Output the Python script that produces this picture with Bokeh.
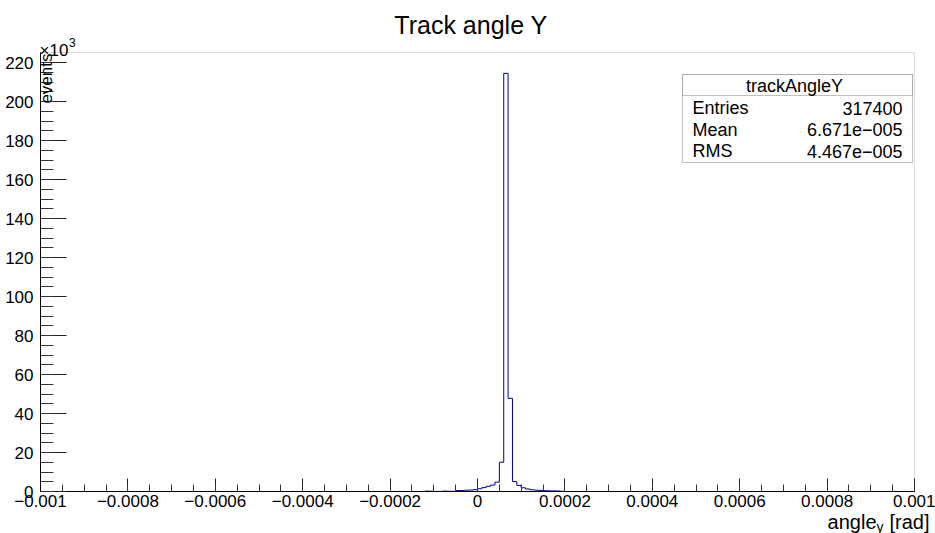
from bokeh.plotting import figure
from bokeh.models import (FixedTicker, CustomJSTickFormatter, Label, BoxAnnotation, Range1d)
from bokeh.embed import file_html
from bokeh.resources import INLINE

# ---------------- data ----------------
x_min, x_max = -0.001, 0.001
n_bins = 200
# non-empty bins: lower edge (in units of 1e-5 rad) and number of events
bin_low_e5 = [-12, -11, -10, -9, -8, -7, -6, -5, -4, -3, -2, -1, 0, 1, 2, 3, 4,
              5, 6, 7, 8, 9, 10, 11, 12, 13, 14, 15, 16, 17, 18, 19]
events = [200, 150, 30, 30, 200, 120, 100, 450, 500, 650, 750, 950, 1400, 2000, 2700, 3300, 4800,
          15000, 214500, 47800, 5100, 3100, 1900, 1300, 900, 700, 550, 400, 350, 300, 250, 100]

x_tick_values = [-0.001, -0.0008, -0.0006, -0.0004, -0.0002, 0.0, 0.0002, 0.0004, 0.0006, 0.0008, 0.001]
x_tick_labels = ["\u22120.001", "\u22120.0008", "\u22120.0006", "\u22120.0004", "\u22120.0002", "0",
                 "0.0002", "0.0004", "0.0006", "0.0008", "0.001"]
y_tick_values = [0, 20000, 40000, 60000, 80000, 100000, 120000, 140000, 160000, 180000, 200000, 220000]
y_tick_labels = ["0", "20", "40", "60", "80", "100", "120", "140", "160", "180", "200", "220"]

title_text = "Track angle Y"
stats_name = "trackAngleY"
stats_keys = ["Entries", "Mean", "RMS"]
stats_vals = ["317400", "6.671e\u2212005", "4.467e\u2212005"]

# ---------------- histogram arrays ----------------
bw = (x_max - x_min) / n_bins
counts = [0.0] * n_bins
for b, c in zip(bin_low_e5, events):
    idx = int(round((b * 1e-5 - x_min) / bw))
    counts[idx] = c
edges = [x_min + i * bw for i in range(n_bins + 1)]
step_y = counts + [counts[-1]]

y_max = max(events) * 1.05

FONT = "Liberation Sans"
W, H = 935, 533
FL, FR, FT, FB = 40, 914, 52, 491   # histogram frame in canvas px

sx = (x_max - x_min) / (FR - FL)    # data per px
sy = y_max / (FB - FT)

def px2x(px):
    return x_min + (px - FL) * sx

def py2y(py):
    return (FB - py) * sy

p = figure(width=W, height=H, output_backend="svg", toolbar_location=None,
           x_range=Range1d(px2x(0), px2x(W)), y_range=Range1d(py2y(H), py2y(0)),
           min_border=0, title=None)
p.xgrid.visible = False
p.ygrid.visible = False
p.outline_line_color = None
p.background_fill_color = "white"
p.border_fill_color = "white"

# frame (top / right edges visible in grey)
p.add_layout(BoxAnnotation(left=x_min, right=x_max, bottom=0, top=y_max, fill_alpha=0,
                           line_color="#8a8a8a", line_width=1, level="underlay"))

p.step(x=edges, y=step_y, mode="after", line_color="#000099", line_width=1)

# axes
xa = p.xaxis[0]
xa.fixed_location = 0
xa.bounds = (x_min, x_max)
xa.ticker = FixedTicker(ticks=x_tick_values,
                        minor_ticks=[x_min + i * (x_max - x_min) / 40 for i in range(41)])
xa.formatter = CustomJSTickFormatter(args=dict(vals=x_tick_values, labs=x_tick_labels), code="""
let b = 0;
for (let i = 0; i < vals.length; i++) { if (Math.abs(vals[i] - tick) < Math.abs(vals[b] - tick)) b = i; }
return labs[b];
""")
xa.major_tick_in = 13
xa.major_tick_out = 0
xa.minor_tick_in = 7
xa.minor_tick_out = 0
xa.major_label_standoff = 3

ya = p.yaxis[0]
ya.fixed_location = x_min
ya.bounds = (0, y_max)
ya.ticker = FixedTicker(ticks=y_tick_values, minor_ticks=[i * 5000 for i in range(45)])
ya.formatter = CustomJSTickFormatter(args=dict(vals=y_tick_values, labs=y_tick_labels), code="""
let b = 0;
for (let i = 0; i < vals.length; i++) { if (Math.abs(vals[i] - tick) < Math.abs(vals[b] - tick)) b = i; }
return labs[b];
""")
ya.major_tick_in = 26
ya.major_tick_out = 0
ya.minor_tick_in = 13
ya.minor_tick_out = 0
ya.major_label_standoff = 7

for ax in (xa, ya):
    ax.axis_line_color = "black"
    ax.major_tick_line_color = "#222222"
    ax.minor_tick_line_color = "#333333"
    ax.major_label_text_font = FONT
    ax.major_label_text_font_size = "17px"
    ax.major_label_text_color = "black"

def lab(**kw):
    kw.setdefault("text_font", FONT)
    kw.setdefault("text_color", "black")
    kw.setdefault("text_baseline", "alphabetic")
    p.add_layout(Label(**kw))

# title
lab(x=px2x(470.5), y=py2y(24.5), text=title_text, text_align="center", text_font_size="25px")
# y axis title and exponent
lab(x=px2x(46), y=py2y(53), text="events", angle=1.5707963, text_align="right",
    text_font_size="17px")
lab(x=px2x(39), y=py2y(50), text="\u00d710", text_align="left", text_font_size="17px")
lab(x=px2x(68.5), y=py2y(42), text="3", text_align="left", text_font_size="12px")
# x axis title: angle_y [rad]
lab(x=px2x(929), y=py2y(521), text="[rad]", text_align="right", text_font_size="20px")
lab(x=px2x(883), y=py2y(526), text="y", text_align="right", text_font_size="14px")
lab(x=px2x(876), y=py2y(521), text="angle", text_align="right", text_font_size="20px")

# stats box
p.add_layout(BoxAnnotation(left=px2x(682), right=px2x(912), top=py2y(74), bottom=py2y(162),
                           fill_color="white", fill_alpha=1.0, line_color="#333333",
                           line_width=1))
p.add_layout(BoxAnnotation(left=px2x(682), right=px2x(912), top=py2y(74), bottom=py2y(95),
                           fill_color="white", fill_alpha=1.0, line_color="#333333",
                           line_width=1))
lab(x=px2x(794), y=py2y(85), text=stats_name, text_align="center", text_baseline="middle",
    text_font_size="18px")
for k, (key, val) in enumerate(zip(stats_keys, stats_vals)):
    yy = py2y(107.5 + 21.7 * k)
    lab(x=px2x(692), y=yy, text=key, text_align="left", text_baseline="middle",
        text_font_size="18px")
    lab(x=px2x(902), y=yy, text=val, text_align="right", text_baseline="middle",
        text_font_size="18px")

open("out.html", "w").write(file_html(p, INLINE))
